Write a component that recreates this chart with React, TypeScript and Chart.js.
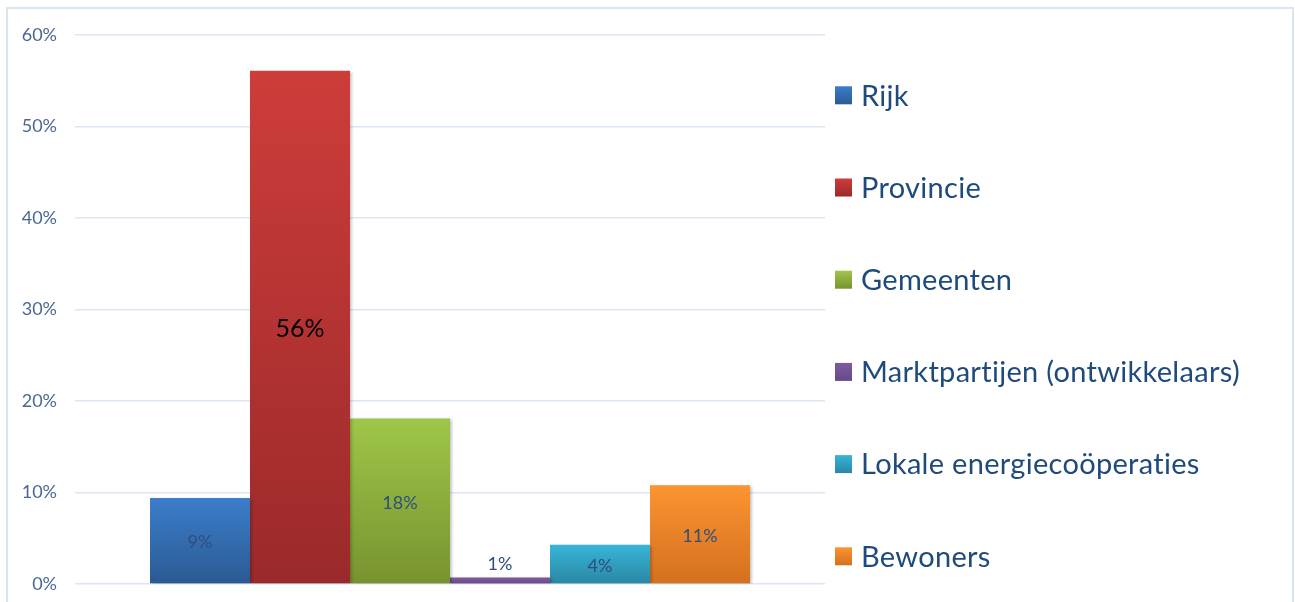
import React, { useEffect, useRef } from 'react';
import { Chart, registerables } from 'chart.js';

Chart.register(...registerables);

const categories = [''];
const seriesNames = [
  'Rijk',
  'Provincie',
  'Gemeenten',
  'Marktpartijen (ontwikkelaars)',
  'Lokale energiecoöperaties',
  'Bewoners',
];
const seriesValues = [9.4, 56.1, 18.1, 0.7, 4.3, 10.8];
const valueLabels = ['9%', '56%', '18%', '1%', '4%', '11%'];
const yTickValues = [0, 10, 20, 30, 40, 50, 60];
const colorsTop = ['#3b7dca', '#cd3d3a', '#9fc649', '#7e5ba1', '#37b5d8', '#fc9431'];
const colorsBottom = ['#2b5a93', '#9b292b', '#77932f', '#684889', '#2a87a3', '#d4701f'];

const FONT = 'Lato, "Open Sans", sans-serif';

const shadowPlugin = {
  id: 'barShadow',
  beforeDatasetsDraw(chart: any) {
    const ctx = chart.ctx;
    ctx.save();
    ctx.shadowColor = 'rgba(0,0,0,0.28)';
    ctx.shadowBlur = 3;
    ctx.shadowOffsetX = 1.5;
    ctx.shadowOffsetY = 1;
  },
  afterDatasetsDraw(chart: any) {
    chart.ctx.restore();
  },
};

const labelPlugin = {
  id: 'barLabels',
  afterDatasetsDraw(chart: any) {
    const ctx = chart.ctx;
    ctx.save();
    ctx.textAlign = 'center';
    ctx.textBaseline = 'middle';
    chart.data.datasets.forEach((ds: any, i: number) => {
      const meta = chart.getDatasetMeta(i);
      const el = meta.data[0];
      if (!el) return;
      const { x, y, base } = el.getProps(['x', 'y', 'base'], true);
      const h = base - y;
      let ty = (y + base) / 2;
      if (h < 20) ty = y - 15;
      if (i === 1) {
        ctx.font = `25px ${FONT}`;
        ctx.fillStyle = '#000000';
      } else {
        ctx.font = `18px ${FONT}`;
        ctx.fillStyle = '#2f4e7e';
      }
      ctx.fillText(valueLabels[i], x, ty + 2);
    });
    ctx.restore();
  },
};

const legendPlugin = {
  id: 'sideLegend',
  afterDraw(chart: any) {
    const { ctx, chartArea } = chart;
    const x0 = chartArea.right + 10;
    const step = 92.2;
    const y0 = chartArea.top + 60.3;
    ctx.save();
    chart.data.datasets.forEach((ds: any, i: number) => {
      const cy = y0 + i * step;
      const g = ctx.createLinearGradient(0, cy - 9, 0, cy + 9);
      g.addColorStop(0, colorsTop[i]);
      g.addColorStop(1, colorsBottom[i]);
      ctx.fillStyle = g;
      ctx.fillRect(x0, cy - 9, 17, 18);
      ctx.fillStyle = '#1f4a7c';
      ctx.font = `29px ${FONT}`;
      if ('textRendering' in ctx) (ctx as any).textRendering = 'optimizeSpeed';
      if ('letterSpacing' in ctx) (ctx as any).letterSpacing = '0.3px';
      ctx.textAlign = 'left';
      ctx.textBaseline = 'middle';
      ctx.fillText(ds.label, x0 + 26, cy + 1);
    });
    ctx.restore();
  },
};

export default function App() {
  const canvasRef = useRef<HTMLCanvasElement | null>(null);

  useEffect(() => {
    if (!canvasRef.current) return;
    const datasets = seriesNames.map((name, i) => ({
      label: name,
      data: [seriesValues[i]],
      backgroundColor: (c: any) => {
        const chart = c.chart;
        const ys = chart.scales && chart.scales.y;
        if (!ys || !chart.chartArea) return colorsTop[i];
        const v = typeof c.raw === 'number' ? c.raw : seriesValues[i];
        const top = ys.getPixelForValue(v);
        const bot = ys.getPixelForValue(0);
        if (!isFinite(top) || !isFinite(bot) || top === bot) return colorsTop[i];
        const g = chart.ctx.createLinearGradient(0, top, 0, bot);
        g.addColorStop(0, colorsTop[i]);
        g.addColorStop(1, colorsBottom[i]);
        return g;
      },
      borderWidth: 0,
      categoryPercentage: 0.8,
      barPercentage: 1.0,
    }));

    const chart = new Chart(canvasRef.current, {
      type: 'bar',
      data: { labels: categories, datasets },
      options: {
        animation: false,
        responsive: false,
        layout: { padding: { top: 26, bottom: 18, left: 0, right: 467 } },
        plugins: {
          legend: { display: false },
          tooltip: { enabled: false },
        },
        scales: {
          x: { display: false },
          y: {
            min: 0,
            max: 60,
            afterBuildTicks: (axis: any) => {
              axis.ticks = yTickValues.map((v) => ({ value: v }));
            },
            afterFit: (axis: any) => {
              axis.width = 67;
            },
            border: { display: false },
            grid: {
              color: '#dce6f2',
              lineWidth: 1.5,
              drawTicks: true,
              tickLength: 18,
              tickColor: 'rgba(0,0,0,0)',
            },
            ticks: {
              padding: 0,
              color: '#4a6796',
              font: { family: FONT, size: 18 },
              callback: (v: any) => `${v}%`,
            },
          },
        },
      },
      plugins: [shadowPlugin, labelPlugin, legendPlugin],
    } as any);
    return () => chart.destroy();
  }, []);

  return (
    <div
      style={{
        position: 'absolute',
        left: 6,
        top: 7,
        width: 1284,
        height: 593,
        borderTop: '2px solid #dbe5f1',
        borderLeft: '2px solid #dbe5f1',
        borderRight: '2px solid #dbe5f1',
        background: '#ffffff',
      }}
    >
      <canvas ref={canvasRef} width={1284} height={593} style={{ display: 'block' }} />
    </div>
  );
}
